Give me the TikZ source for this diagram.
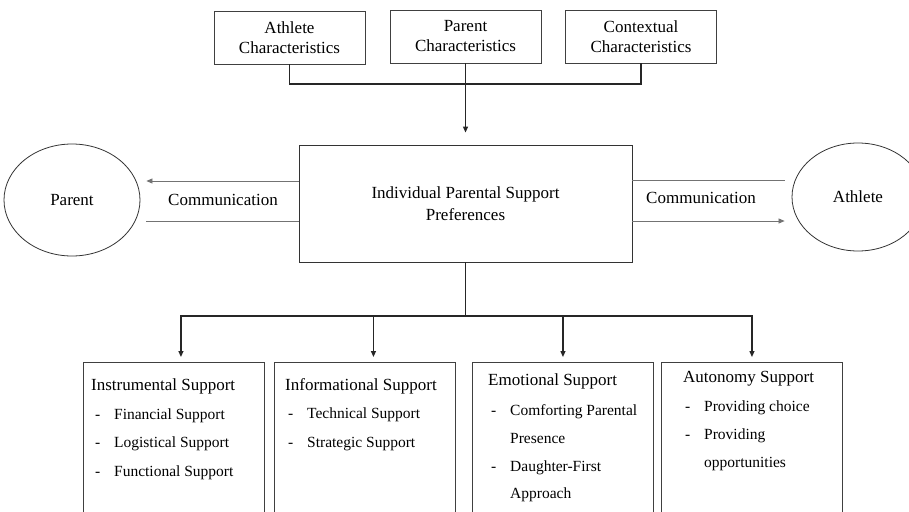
\documentclass[tikz,border=0pt]{standalone}
\usepackage{fontspec}
\setmainfont{Liberation Serif}
\usetikzlibrary{positioning,arrows.meta,shapes.geometric}

\begin{document}
\begin{tikzpicture}[x=1pt, y=-1pt,
    charbox/.style={rectangle, draw=black!75, line width=0.9pt, minimum width=151pt,
                    minimum height=53pt, align=center, inner sep=0pt,
                    font=\fontsize{17}{20}\selectfont},
    corebox/.style={rectangle, draw=black!80, line width=0.9pt, minimum width=333pt,
                    minimum height=117pt, align=center, inner sep=0pt,
                    font=\fontsize{17}{22}\selectfont},
    person/.style={ellipse, draw=black!80, line width=0.8pt, inner sep=0pt,
                   font=\fontsize{17}{20}\selectfont},
    supbox/.style={rectangle, draw=black!75, line width=0.9pt, minimum width=181pt,
                   minimum height=200pt, anchor=north west},
    suptitle/.style={anchor=base west, inner sep=0pt, font=\fontsize{17}{20}\selectfont},
    supitem/.style={anchor=base west, inner sep=0pt, font=\fontsize{15.5}{18}\selectfont},
    commlabel/.style={inner sep=0pt, font=\fontsize{17}{20}\selectfont},
    link/.style={line width=1.2pt, draw=black!85},
    talk/.style={line width=0.7pt, draw=black!55},
    tip/.style={-{Triangle[length=6pt,width=5pt]}}]
  \path[use as bounding box, clip] (0,0) rectangle (909,511);

  % characteristics
  \node[charbox] (athchar) at (289.5,37.5) {Athlete\\Characteristics};
  \node[charbox] (parchar) at (465.5,36.5) {Parent\\Characteristics};
  \node[charbox] (ctxchar) at (641,36.5)   {Contextual\\Characteristics};

  % preferences and the two people
  \node[corebox] (prefs) at (465.5,203.5) {Individual Parental Support\\Preferences};
  \node[person, minimum width=136pt, minimum height=112pt] (parent)  at (72,200)  {Parent};
  \node[person, minimum width=132pt, minimum height=108pt] (athlete) at (858,197) {Athlete};
  \node[commlabel] (commleft)  at (223,200) {Communication};
  \node[commlabel] (commright) at (701,198) {Communication};

  % support types
  \node[supbox] (instr)  at (83,362)  {};
  \node[supbox] (inform) at (274,362) {};
  \node[supbox] (emot)   at (472,362) {};
  \node[supbox] (auton)  at (661,362) {};

  \node[suptitle] (instr-t) at (91,390) {Instrumental Support};
  \node[supitem] (instr-1) at (95,419) {\makebox[19pt][l]{-}Financial Support};
  \node[supitem] (instr-2) at (95,447) {\makebox[19pt][l]{-}Logistical Support};
  \node[supitem] (instr-3) at (95,476) {\makebox[19pt][l]{-}Functional Support};

  \node[suptitle] (inform-t) at (285,390) {Informational Support};
  \node[supitem] (inform-1) at (288,418) {\makebox[19pt][l]{-}Technical Support};
  \node[supitem] (inform-2) at (288,447) {\makebox[19pt][l]{-}Strategic Support};

  \node[suptitle] (emot-t) at (488,385) {Emotional Support};
  \node[supitem] (emot-1) at (491,415) {\makebox[19pt][l]{-}Comforting Parental};
  \node[supitem] (emot-2) at (510,443) {Presence};
  \node[supitem] (emot-3) at (491,471) {\makebox[19pt][l]{-}Daughter-First};
  \node[supitem] (emot-4) at (510,498) {Approach};

  \node[suptitle] (auton-t) at (683,382) {Autonomy Support};
  \node[supitem] (auton-1) at (685,411) {\makebox[19pt][l]{-}Providing choice};
  \node[supitem] (auton-2) at (685,439) {\makebox[19pt][l]{-}Providing};
  \node[supitem] (auton-3) at (704,467) {opportunities};

  % connectors
  \coordinate (bus)  at (465.5,84);
  \coordinate (fork) at (465.5,316);
  \draw[link] (athchar.south) |- (bus) -| (ctxchar.south);
  \draw[link, tip, shorten >=12pt] (parchar.south) -- (prefs.north);
  \draw[link] (prefs.south) -- (fork);
  \draw[link, tip, shorten >=5pt] (fork) -| ([xshift=7pt]instr.north);
  \draw[link, tip, shorten >=5pt] (fork) -| ([xshift=8.5pt]inform.north);
  \draw[link, tip, shorten >=5pt] (fork) -| (emot.north);
  \draw[link, tip, shorten >=5pt] (fork) -| (auton.north);

  \coordinate (lefthi) at ([yshift=22.5pt]prefs.west);
  \coordinate (leftlo) at ([yshift=-17.5pt]prefs.west);
  \coordinate (righthi) at ([yshift=23.5pt]prefs.east);
  \coordinate (rightlo) at ([yshift=-17.5pt]prefs.east);
  \draw[talk, tip, shorten >=6pt] (lefthi) -- (lefthi -| parent.east);
  \draw[talk, shorten >=6pt] (leftlo) -- (leftlo -| parent.east);
  \draw[talk, shorten >=7pt] (righthi) -- (righthi -| athlete.west);
  \draw[talk, tip, shorten >=7pt] (rightlo) -- (rightlo -| athlete.west);
\end{tikzpicture}
\end{document}
